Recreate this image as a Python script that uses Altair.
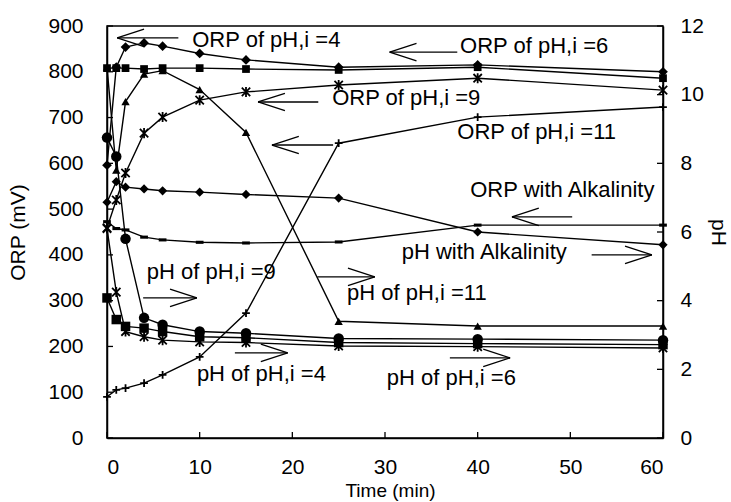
import altair as alt
import pandas as pd

# ---------------- data ----------------
TIME = [0, 1, 2, 4, 6, 10, 15, 25, 40, 60]

# ORP series (mV, left axis)
ORP_PH4 = [596, 810, 854, 863, 856, 840, 826, 810, 815, 800]
ORP_PH6 = [808, 808, 808, 806, 808, 808, 806, 804, 810, 786]
ORP_PH9 = [459, 520, 579, 666, 701, 738, 756, 771, 786, 760]
ORP_PH11 = [90, 105, 109, 120, 138, 177, 273, 644, 701, 723]
ORP_ALK = [515, 560, 548, 544, 540, 537, 532, 524, 450, 422]

# pH series (right axis)
PH_PH4 = [4.08, 3.45, 3.25, 3.2, 3.1, 2.95, 2.92, 2.78, 2.75, 2.72]
PH_PH6 = [6.1, 4.25, 3.1, 2.95, 2.85, 2.8, 2.78, 2.68, 2.66, 2.62]
PH_PH9 = [8.75, 8.2, 5.8, 3.5, 3.3, 3.1, 3.05, 2.9, 2.88, 2.85]
PH_PH11 = [10.8, 7.8, 9.8, 10.6, 10.7, 10.15, 8.9, 3.4, 3.26, 3.26]
PH_ALK = [6.3, 6.1, 6.06, 5.85, 5.77, 5.7, 5.68, 5.71, 6.2, 6.2]

X_TICKS = [0, 10, 20, 30, 40, 50, 60]
ORP_TICKS = [0, 100, 200, 300, 400, 500, 600, 700, 800, 900]
PH_TICKS = [0, 2, 4, 6, 8, 10, 12]

# annotations (text start in minutes / mV)
ANN_TEXT = ["ORP of pH,i =4", "ORP of pH,i =6", "ORP of pH,i =9", "ORP of pH,i =11",
            "ORP with Alkalinity", "pH with Alkalinity", "pH of pH,i =11",
            "pH of pH,i =9", "pH of pH,i =4", "pH of pH,i =6"]
ANN_T = [9.2, 38.1, 24.3, 37.8, 39.2, 31.8, 25.9, 4.3, 9.7, 30.2]
ANN_MV = [869, 856, 743, 668, 542, 406, 317, 363, 140, 131]

# arrows: tip and tail (minutes / mV)
ARROW_TIP_T = [1.1, 30.5, 16.3, 17.8, 43.7, 58.8, 28.9, 9.7, 19.5, 43.5]
ARROW_TAIL_T = [7.7, 37.8, 22.8, 24.4, 50.2, 52.3, 22.7, 3.9, 13.8, 37.0]
ARROW_MV = [874, 843, 734, 640, 483, 400, 352, 306, 186, 175]

# ---------------- style ----------------
FONT = "Liberation Sans"
W, H = 556, 412
HEAD_DX = 2.9    # minutes
HEAD_DY = 19.0   # mV

X_SHAPE = "M-1,-1L1,1M-1,1L1,-1M0,-1.2L0,1.2"
PLUS_SHAPE = "M-1,0L1,0M0,-1L0,1"
DASH_SHAPE = "M-1,-0.4L1,-0.4L1,0.4L-1,0.4Z"

x_axis = alt.Axis(values=X_TICKS, tickSize=0, labelPadding=18, labelFont=FONT,
                  labelFontSize=21, labelColor="black", domainColor="black",
                  domainWidth=1.5, grid=False, title="Time (min)", titleFont=FONT,
                  titleFontSize=19, titleFontWeight="normal", titleColor="black",
                  titleX=283, titleY=52, titleAlign="center", titleBaseline="middle")
orp_axis = alt.Axis(orient="left", values=ORP_TICKS, tickSize=0, labelPadding=24,
                    labelFont=FONT, labelFontSize=21, labelColor="black",
                    domainColor="black", domainWidth=1.5, grid=False,
                    title="ORP (mV)", titleFont=FONT, titleFontSize=21,
                    titleFontWeight="normal", titleColor="black", titleX=-89,
                    titleY=H / 2, titleAngle=270, titleAlign="center",
                    titleBaseline="middle")
ph_axis = alt.Axis(orient="right", values=PH_TICKS, tickSize=0, labelPadding=17,
                   labelFont=FONT, labelFontSize=21, labelColor="black",
                   domainColor="black", domainWidth=1.5, grid=False,
                   title="pH", titleFont=FONT, titleFontSize=21,
                   titleFontWeight="normal", titleColor="black", titleX=54,
                   titleY=H / 2, titleAngle=90, titleAlign="center",
                   titleBaseline="middle")

XS = alt.Scale(domain=[0, 60], nice=False, zero=False)
YO = alt.Scale(domain=[0, 900], nice=False)
YP = alt.Scale(domain=[0, 12], nice=False)


def xenc(f="t"):
    return alt.X(f"{f}:Q", scale=XS, axis=x_axis)


def yorp(f="v"):
    return alt.Y(f"{f}:Q", scale=YO, axis=orp_axis)


def yph(f="v"):
    return alt.Y(f"{f}:Q", scale=YP, axis=ph_axis)


def series_layers(values, shape, size, filled, yfun):
    df = pd.DataFrame({"t": TIME, "v": values})
    line = alt.Chart(df).mark_line(color="black", strokeWidth=1.4).encode(
        x=xenc(), y=yfun())
    if filled:
        pts = alt.Chart(df).mark_point(shape=shape, size=size, filled=True,
                                       color="black", opacity=1)
    else:
        pts = alt.Chart(df).mark_point(shape=shape, size=size, filled=False,
                                       color="black", opacity=1, strokeWidth=1.8)
    return [line, pts.encode(x=xenc(), y=yfun())]


ORP_SERIES = [
    (ORP_PH4, "diamond", 95, True),
    (ORP_PH6, "square", 60, True),
    (ORP_PH9, X_SHAPE, 70, False),
    (ORP_PH11, PLUS_SHAPE, 60, False),
    (ORP_ALK, "diamond", 85, True),
]
PH_SERIES = [
    (PH_PH4, "square", 90, True),
    (PH_PH6, X_SHAPE, 70, False),
    (PH_PH9, "circle", 110, True),
    (PH_PH11, "triangle-up", 70, True),
    (PH_ALK, DASH_SHAPE, 60, True),
]

orp_layers = []
for vals, shp, sz, fl in ORP_SERIES:
    orp_layers += series_layers(vals, shp, sz, fl, yorp)

# annotation text
ann_df = pd.DataFrame({"t": ANN_T, "v": ANN_MV, "label": ANN_TEXT})
orp_layers.append(
    alt.Chart(ann_df).mark_text(align="left", baseline="middle", font=FONT,
                                fontSize=22, color="black").encode(
        x=xenc(), y=yorp(), text="label:N"))

# arrows
segs = []
for tip, tail, mv in zip(ARROW_TIP_T, ARROW_TAIL_T, ARROW_MV):
    d = 1 if tail > tip else -1
    segs.append({"t": tip, "v": mv, "t2": tail, "v2": mv})
    segs.append({"t": tip, "v": mv, "t2": tip + d * HEAD_DX, "v2": mv + HEAD_DY})
    segs.append({"t": tip, "v": mv, "t2": tip + d * HEAD_DX, "v2": mv - HEAD_DY})
seg_df = pd.DataFrame(segs)
orp_layers.append(
    alt.Chart(seg_df).mark_rule(color="black", strokeWidth=1.3).encode(
        x=xenc(), x2="t2:Q", y=yorp(), y2="v2:Q"))

# inner tick marks (left and bottom)
orp_layers.append(
    alt.Chart(pd.DataFrame({"v": ORP_TICKS})).mark_rule(color="black", strokeWidth=1.3).encode(
        y=yorp(), x=alt.value(0), x2=alt.value(6)))
orp_layers.append(
    alt.Chart(pd.DataFrame({"t": X_TICKS})).mark_rule(color="black", strokeWidth=1.3).encode(
        x=xenc(), y=alt.value(H), y2=alt.value(H - 6)))

ph_layers = []
for vals, shp, sz, fl in PH_SERIES:
    ph_layers += series_layers(vals, shp, sz, fl, yph)
ph_layers.append(
    alt.Chart(pd.DataFrame({"v": PH_TICKS})).mark_rule(color="black", strokeWidth=1.3).encode(
        y=yph(), x=alt.value(W), x2=alt.value(W - 6)))

chart = (
    alt.layer(alt.layer(*orp_layers), alt.layer(*ph_layers))
    .resolve_scale(y="independent")
    .properties(width=W, height=H,
                padding={"left": 107, "top": 26, "right": 68, "bottom": 64},
                autosize=alt.AutoSizeParams(type="none"),
                background="white")
    .configure_view(stroke="black", strokeWidth=1.5)
)

chart.save("out.html", embed_options={"renderer": "svg", "actions": False})
